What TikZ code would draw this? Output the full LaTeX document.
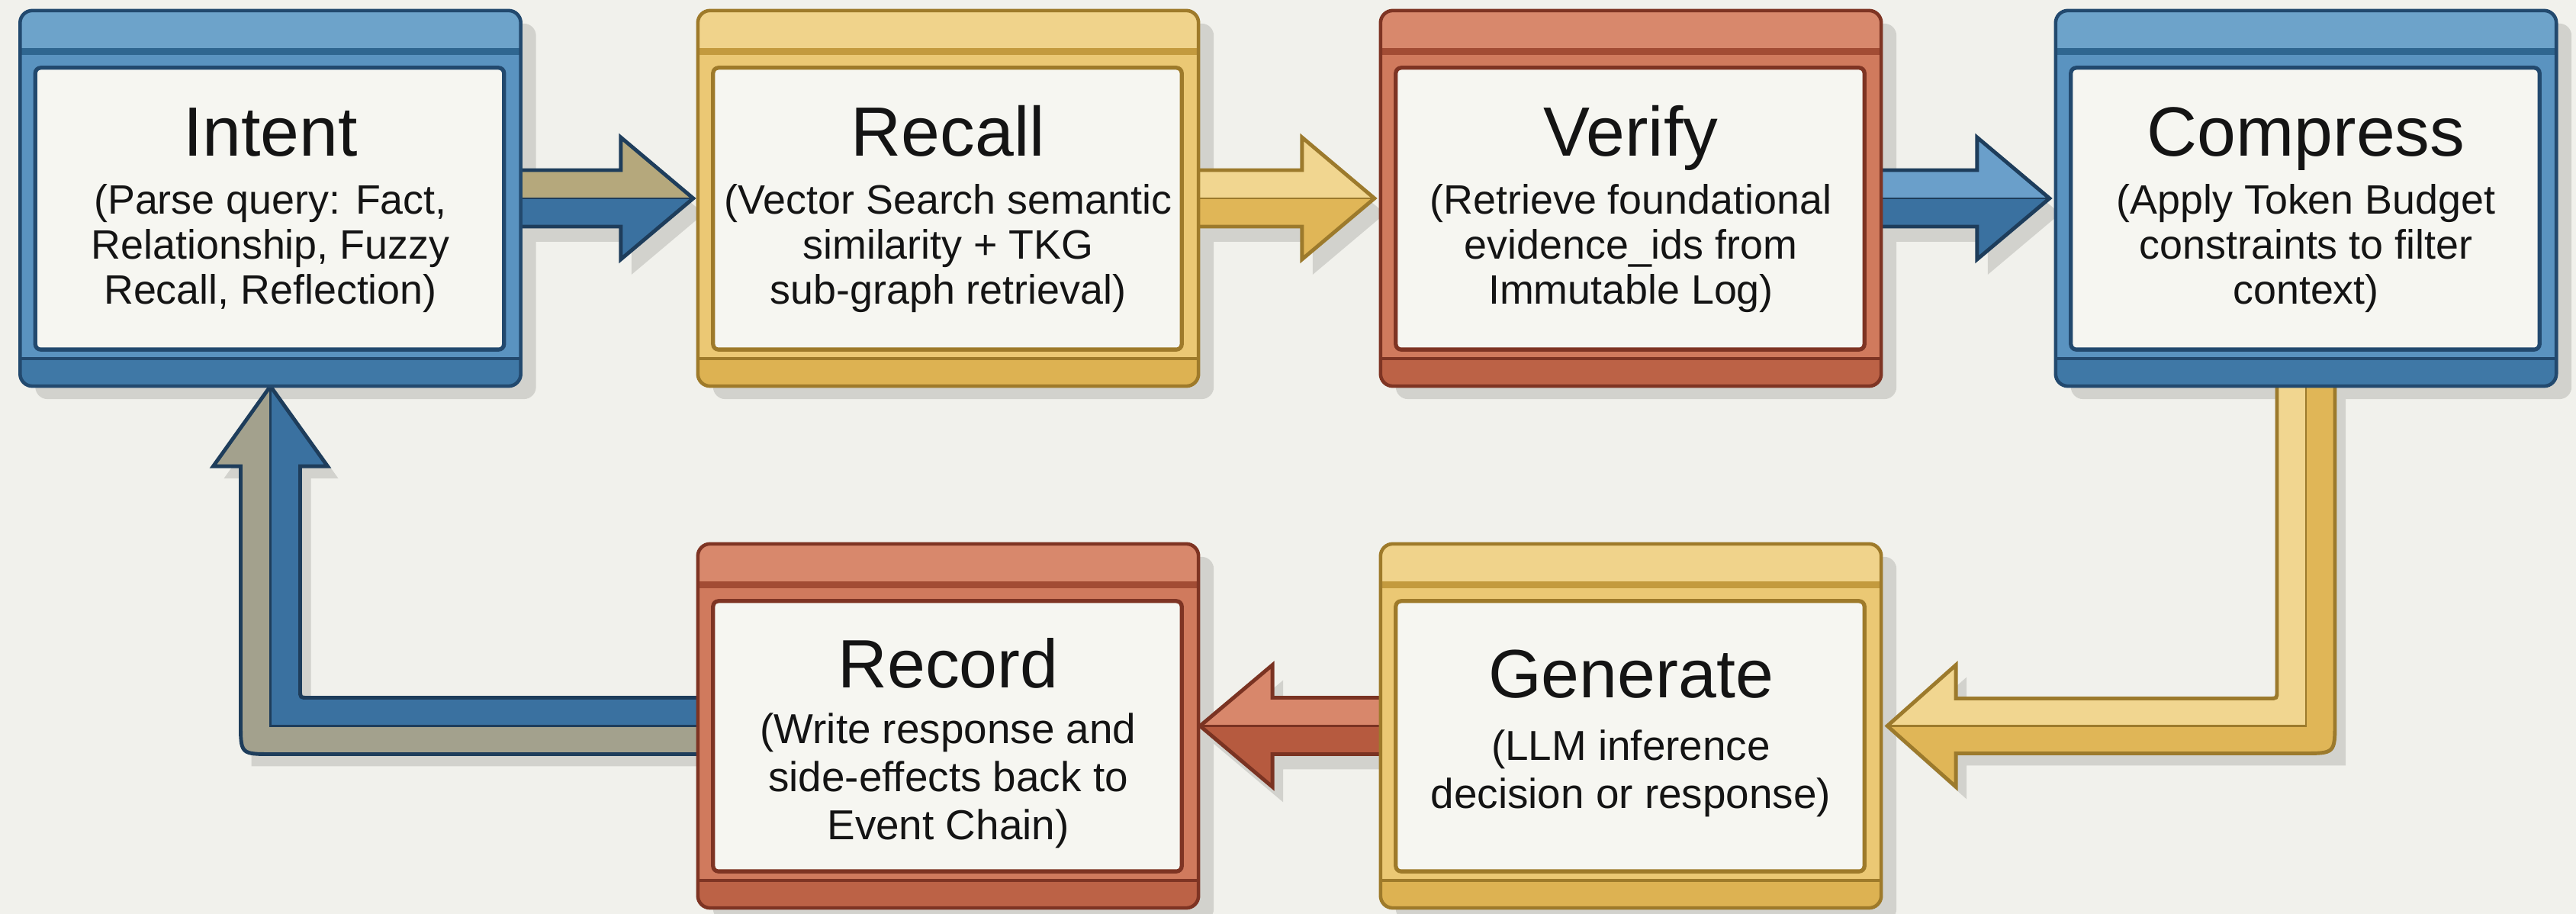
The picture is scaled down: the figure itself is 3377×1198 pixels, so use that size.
\documentclass[tikz,border=0pt]{standalone}
\usepackage{fontspec}
\setmainfont{Liberation Sans}
\usetikzlibrary{calc}
\definecolor{bgc}{HTML}{F1F1EC}
\definecolor{shc}{HTML}{D2D2CD}
\definecolor{panelc}{HTML}{F6F6F1}
\definecolor{bluelight}{HTML}{6DA3CA}
\definecolor{blueframe}{HTML}{5A93C0}
\definecolor{bluestripe}{HTML}{2F6690}
\definecolor{bluebottom}{HTML}{3F78A6}
\definecolor{bluedark}{HTML}{22496E}
\definecolor{yellowlight}{HTML}{F0D38B}
\definecolor{yellowframe}{HTML}{EBC874}
\definecolor{yellowstripe}{HTML}{C39A3E}
\definecolor{yellowbottom}{HTML}{DDB252}
\definecolor{yellowdark}{HTML}{9E7A2A}
\definecolor{redlight}{HTML}{D8886C}
\definecolor{redframe}{HTML}{D07A5D}
\definecolor{redstripe}{HTML}{A24C34}
\definecolor{redbottom}{HTML}{BC6246}
\definecolor{reddark}{HTML}{7E3423}
\definecolor{khaki}{HTML}{B5A87C}
\definecolor{greykhaki}{HTML}{A3A18D}
\definecolor{ablue}{HTML}{3A71A0}
\definecolor{ablueup}{HTML}{6A9FCA}
\definecolor{abluedark}{HTML}{1E3D5B}
\definecolor{ayelup}{HTML}{F1D690}
\definecolor{ayellow}{HTML}{E0B657}
\definecolor{ayeldark}{HTML}{9C7A2C}
\definecolor{aredup}{HTML}{D8876B}
\definecolor{ared}{HTML}{B65A3F}
\definecolor{areddark}{HTML}{7A3322}

\tikzset{
  stagebox/.style={rectangle, inner sep=0pt, outer sep=0pt, minimum width=6.56cm},
  ttl/.style={font=\fontsize{26}{30}\selectfont, text=black!92, inner sep=0pt, anchor=base},
  bdy/.style={font=\fontsize{15.3}{16.8}\selectfont, align=center, text=black!92, inner sep=0pt, anchor=north},
  bdyb/.style={font=\fontsize{15.6}{18}\selectfont, align=center, text=black!92, inner sep=0pt, anchor=north},
}

\newcommand\stageshadow[1]{%
  \fill[shc, rounded corners=0.16cm] ($(#1.north west)+(20,17)$) rectangle ($(#1.south east)+(20,17)$);}

\newcommand\stageframe[2]{%
  \begin{scope}
    \clip[rounded corners=0.16cm] (#1.north west) rectangle (#1.south east);
    \fill[#2frame] (#1.north west) rectangle (#1.south east);
    \fill[#2light] (#1.north west) rectangle ($(#1.north east)+(0,49)$);
    \fill[#2stripe] ($(#1.north west)+(0,49)$) rectangle ($(#1.north east)+(0,58)$);
    \fill[#2bottom] ($(#1.south west)+(0,-36)$) rectangle (#1.south east);
    \draw[#2dark, line width=1.1pt] ($(#1.south west)+(0,-36)$) -- ($(#1.south east)+(0,-36)$);
  \end{scope}
  \draw[#2dark, line width=1.3pt, rounded corners=0.16cm] (#1.north west) rectangle (#1.south east);
  \filldraw[fill=panelc, draw=#2dark, line width=1.5pt, rounded corners=0.07cm]
    ($(#1.north west)+(20,75)$) rectangle ($(#1.south east)+(-22,-48)$);}

\newcommand\harrowpath[5]{%
  ($(#1)+({-8*#3+#4},{-37+#5})$) -- ($(#2)+({-95*#3+#4},{-37+#5})$) -- ($(#2)+({-95*#3+#4},{-80+#5})$) -- ($(#2)+(#4,#5)$) -- ($(#2)+({-95*#3+#4},{80+#5})$) -- ($(#2)+({-95*#3+#4},{37+#5})$) -- ($(#1)+({-8*#3+#4},{37+#5})$) -- cycle}

\newcommand\blockarrow[6]{%
  \fill[shc] \harrowpath{#1}{#2}{#3}{14}{20};
  \fill[#5] \harrowpath{#1}{#2}{#3}{0}{0};
  \fill[#4] ($(#1)+({-8*#3},-37)$) -- ($(#2)+({-95*#3},-37)$) -- ($(#2)+({-95*#3},-80)$) -- (#2) -- ($(#1)+({-8*#3},0)$) -- cycle;
  \draw[#6, line width=0.7pt] ($(#1)+({-8*#3},0)$) -- (#2);
  \draw[#6, line width=1.4pt, line join=miter] \harrowpath{#1}{#2}{#3}{0}{0};}

\begin{document}
\begin{tikzpicture}[x=0.01cm, y=-0.01cm]
\fill[bgc] (0,0) rectangle (3377,1198);
\useasboundingbox (0,0) rectangle (3377,1198);

% stage nodes
\node[stagebox, minimum height=4.92cm] (intent)   at (354.5,260) {};
\node[stagebox, minimum height=4.92cm] (recall)   at (1243,260) {};
\node[stagebox, minimum height=4.92cm] (verify)   at (2138,260) {};
\node[stagebox, minimum height=4.92cm] (compress) at (3023,260) {};
\node[stagebox, minimum height=4.77cm] (record)   at (1243,951.5) {};
\node[stagebox, minimum height=4.77cm] (generate) at (2138,951.5) {};

% shadows
\stageshadow{intent}\stageshadow{recall}\stageshadow{verify}
\stageshadow{compress}\stageshadow{record}\stageshadow{generate}

% straight arrows
\coordinate (a1s) at (intent.east);   \coordinate (a1t) at ($(recall.west)+(-6,0)$);
\coordinate (a2s) at (recall.east);   \coordinate (a2t) at ($(verify.west)+(-8,0)$);
\coordinate (a3s) at (verify.east);   \coordinate (a3t) at ($(compress.west)+(-8,0)$);
\coordinate (a5s) at (generate.west); \coordinate (a5t) at ($(record.east)+(2,0)$);
\blockarrow{a1s}{a1t}{1}{khaki}{ablue}{abluedark}
\blockarrow{a2s}{a2t}{1}{ayelup}{ayellow}{ayeldark}
\blockarrow{a3s}{a3t}{1}{ablueup}{ablue}{abluedark}
\blockarrow{a5s}{a5t}{-1}{aredup}{ared}{areddark}

% L arrow: compress -> generate
\coordinate (ca) at (compress.south);
\coordinate (gt) at ($(generate.east)+(8,0)$);
\coordinate (k1) at (ca |- gt);
\fill[shc] ($(ca)+(-38+14,-8)$) -- ($(k1)+(-38+14,-36+16)$) -- ($(gt)+(90+14,-36+16)$) -- ($(gt)+(90+14,-80+16)$) -- ($(gt)+(14,16)$) -- ($(gt)+(90+14,80+16)$) -- ($(gt)+(90+14,36+16)$) -- ($(k1)+(38+14,36+16)$) -- ($(ca)+(38+14,-8)$) -- cycle;
\fill[ayellow] ($(ca)+(-38,-8)$) -- ($(k1)+(-38,-46)$) .. controls ($(k1)+(-38,-36)$) .. ($(k1)+(-48,-36)$) -- ($(gt)+(90,-36)$) -- ($(gt)+(90,-80)$) -- (gt) -- ($(gt)+(90,80)$) -- ($(gt)+(90,36)$) -- ($(k1)+(-4,36)$) .. controls ($(k1)+(38,36)$) .. ($(k1)+(38,-6)$) -- ($(ca)+(38,-8)$) -- cycle;
\fill[ayelup] ($(ca)+(-38,-8)$) -- ($(k1)+(-38,-46)$) .. controls ($(k1)+(-38,-36)$) .. ($(k1)+(-48,-36)$) -- ($(gt)+(90,-36)$) -- ($(gt)+(90,-80)$) -- (gt) -- (k1) -- ($(ca)+(0,-8)$) -- cycle;
\draw[ayeldark, line width=0.7pt] ($(ca)+(0,-8)$) -- (k1) -- (gt);
\draw[ayeldark, line width=1.4pt, line join=miter] ($(ca)+(-38,-8)$) -- ($(k1)+(-38,-46)$) .. controls ($(k1)+(-38,-36)$) .. ($(k1)+(-48,-36)$) -- ($(gt)+(90,-36)$) -- ($(gt)+(90,-80)$) -- (gt) -- ($(gt)+(90,80)$) -- ($(gt)+(90,36)$) -- ($(k1)+(-4,36)$) .. controls ($(k1)+(38,36)$) .. ($(k1)+(38,-6)$) -- ($(ca)+(38,-8)$);

% L arrow: record -> intent
\coordinate (ra) at (record.west);
\coordinate (it) at (intent.south);
\coordinate (k2) at (it |- ra);
\fill[shc] ($(ra)+(8,-37+16)$) -- ($(k2)+(39+14,-37+16)$) -- ($(it)+(39+14,105+16)$) -- ($(it)+(75+14,105+16)$) -- ($(it)+(14,16)$) -- ($(it)+(-75+14,105+16)$) -- ($(it)+(-39+14,105+16)$) -- ($(k2)+(-39+14,37+16)$) -- ($(ra)+(8,37+16)$) -- cycle;
\fill[greykhaki] ($(ra)+(8,-37)$) -- ($(k2)+(49,-37)$) .. controls ($(k2)+(39,-37)$) .. ($(k2)+(39,-47)$) -- ($(it)+(39,105)$) -- ($(it)+(75,105)$) -- (it) -- ($(it)+(-75,105)$) -- ($(it)+(-39,105)$) -- ($(k2)+(-39,-4)$) .. controls ($(k2)+(-39,37)$) .. ($(k2)+(2,37)$) -- ($(ra)+(8,37)$) -- cycle;
\fill[ablue] ($(ra)+(8,-37)$) -- ($(k2)+(49,-37)$) .. controls ($(k2)+(39,-37)$) .. ($(k2)+(39,-47)$) -- ($(it)+(39,105)$) -- ($(it)+(75,105)$) -- (it) -- (k2) -- ($(ra)+(8,0)$) -- cycle;
\draw[abluedark, line width=0.7pt] ($(ra)+(8,0)$) -- (k2) -- (it);
\draw[abluedark, line width=1.4pt, line join=miter] ($(ra)+(8,-37)$) -- ($(k2)+(49,-37)$) .. controls ($(k2)+(39,-37)$) .. ($(k2)+(39,-47)$) -- ($(it)+(39,105)$) -- ($(it)+(75,105)$) -- (it) -- ($(it)+(-75,105)$) -- ($(it)+(-39,105)$) -- ($(k2)+(-39,-4)$) .. controls ($(k2)+(-39,37)$) .. ($(k2)+(2,37)$) -- ($(ra)+(8,37)$);

% frames
\stageframe{intent}{blue}
\stageframe{recall}{yellow}
\stageframe{verify}{red}
\stageframe{compress}{blue}
\stageframe{record}{red}
\stageframe{generate}{yellow}

% texts
\node[ttl] (intent-title) at ($(intent.north)+(0,191)$) {Intent};
\node[bdy] (intent-body) at ($(intent.north)+(0,227)$) {(Parse query: Fact,\\Relationship, Fuzzy\\Recall, Reflection)};
\node[ttl] (recall-title) at ($(recall.north)+(0,191)$) {Recall};
\node[bdy] (recall-body) at ($(recall.north)+(0,227)$) {(Vector Search semantic\\similarity + TKG\\sub-graph retrieval)};
\node[ttl] (verify-title) at ($(verify.north)+(0,191)$) {Verify};
\node[bdy] (verify-body) at ($(verify.north)+(0,227)$) {(Retrieve foundational\\evidence\_ids from\\Immutable Log)};
\node[ttl] (compress-title) at ($(compress.north)+(0,191)$) {Compress};
\node[bdy] (compress-body) at ($(compress.north)+(0,227)$) {(Apply Token Budget\\constraints to filter\\context)};
\node[ttl, font=\fontsize{25.5}{30}\selectfont] (record-title) at ($(record.north)+(0,189)$) {Record};
\node[bdyb] (record-body) at ($(record.north)+(0,221)$) {(Write response and\\side-effects back to\\Event Chain)};
\node[ttl, font=\fontsize{25.5}{30}\selectfont] (generate-title) at ($(generate.north)+(0,202)$) {Generate};
\node[bdyb] (generate-body) at ($(generate.north)+(0,243)$) {(LLM inference\\decision or response)};
\end{tikzpicture}
\end{document}
